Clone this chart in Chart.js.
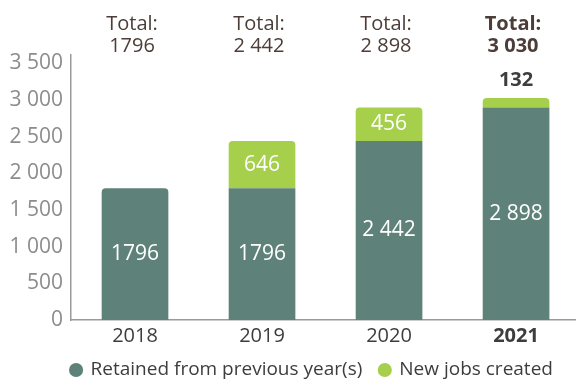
<!DOCTYPE html>
<html>
<head>
<meta charset="utf-8">
<script src="https://cdn.jsdelivr.net/npm/chart.js@4.4.1/dist/chart.umd.min.js"></script>
<style>
  html, body { margin: 0; padding: 0; background: #ffffff; }
  #wrap { width: 576px; height: 380px; position: relative; overflow: hidden; }
</style>
</head>
<body>
<div id="wrap"><canvas id="chart" width="576" height="380"></canvas></div>
<script>
// Jobs per year, split into retained and newly created
const years = ['2018', '2019', '2020', '2021'];
const retained = [1796, 1796, 2442, 2898];
const newJobs = [null, 646, 456, 132];
const totals = [1796, 2442, 2898, 3030];
const yTicks = [0, 500, 1000, 1500, 2000, 2500, 3000, 3500];

const COLOR_RETAINED = '#5e8279';
const COLOR_NEW = '#a6cf4c';
const FONT = '"Open Sans", sans-serif';

// Space-grouped thousands; four-digit values below 2000 stay ungrouped
const fmt = v => {
  const s = String(v);
  if (v < 2000) return s;
  return s.replace(/\B(?=(\d{3})+(?!\d))/g, ' ');
};

const lastIdx = years.length - 1;

const labelsPlugin = {
  id: 'barLabels',
  afterDatasetsDraw(chart) {
    const { ctx, scales } = chart;
    const x = scales.x, y = scales.y;
    ctx.save();
    ctx.textAlign = 'center';
    years.forEach((yr, i) => {
      const cx = x.getPixelForValue(i);
      const bold = i === lastIdx;

      // totals row above the plot
      ctx.textBaseline = 'alphabetic';
      ctx.fillStyle = '#4b3d37';
      ctx.font = (bold ? 'bold ' : '') + '20px ' + FONT;
      ctx.fillText('Total:', cx - 3, 30);
      ctx.fillText(fmt(totals[i]), cx - 3, 52);

      // retained segment value
      ctx.textBaseline = 'middle';
      ctx.fillStyle = '#ffffff';
      ctx.font = '21px ' + FONT;
      ctx.fillText(fmt(retained[i]), cx, y.getPixelForValue(retained[i] / 2));

      // new-jobs segment value: inside when it fits, above the bar otherwise
      const n = newJobs[i];
      if (n) {
        const top = y.getPixelForValue(retained[i] + n);
        const base = y.getPixelForValue(retained[i]);
        if (base - top > 26) {
          ctx.fillStyle = '#ffffff';
          ctx.font = '21px ' + FONT;
          ctx.fillText(fmt(n), cx, (top + base) / 2);
        } else {
          ctx.fillStyle = '#3d3d3d';
          ctx.font = 'bold 20px ' + FONT;
          ctx.fillText(fmt(n), cx, top - 18);
        }
      }
    });
    ctx.restore();
  }
};

const topRadius = { topLeft: 4, topRight: 4, bottomLeft: 0, bottomRight: 0 };

new Chart(document.getElementById('chart'), {
  type: 'bar',
  data: {
    datasets: [
      {
        label: 'Retained from previous year(s)',
        data: retained.map((v, i) => ({ x: i, y: v })),
        backgroundColor: COLOR_RETAINED,
        borderRadius: ctx => (newJobs[ctx.dataIndex] ? 0 : topRadius),
        borderSkipped: false,
        barPercentage: 0.525,
        categoryPercentage: 1
      },
      {
        label: 'New jobs created',
        data: newJobs.map((v, i) => ({ x: i, y: v })),
        backgroundColor: COLOR_NEW,
        borderRadius: topRadius,
        borderSkipped: false,
        barPercentage: 0.525,
        categoryPercentage: 1
      }
    ]
  },
  options: {
    responsive: false,
    animation: false,
    // negative right padding nudges the full-width legend a little left of centre
    layout: { padding: { top: 55, right: -48, left: 0, bottom: 0 } },
    plugins: {
      tooltip: { enabled: false },
      legend: {
        position: 'bottom',
        maxHeight: 37,
        labels: {
          usePointStyle: true,
          pointStyle: 'circle',
          boxWidth: 10,
          boxHeight: 10,
          padding: 17.5,
          color: '#3d3d3d',
          font: { family: FONT, size: 19 }
        }
      }
    },
    scales: {
      x: {
        type: 'linear',
        stacked: true,
        offset: false,
        min: -0.504,
        max: 3.472,
        afterBuildTicks: s => { s.ticks = years.map((_, i) => ({ value: i })); },
        afterFit: s => { s.height = 23; },
        grid: { display: false, drawTicks: false },
        border: { display: true, color: '#9a9a9a', width: 1.5 },
        ticks: {
          padding: 4,
          color: '#3d3d3d',
          maxRotation: 0,
          callback: v => years[v],
          font: ctx => ({ family: FONT, size: 20, weight: ctx.index === lastIdx ? 'bold' : 'normal' })
        }
      },
      y: {
        stacked: true,
        min: 0,
        max: 3615,
        afterBuildTicks: s => { s.ticks = yTicks.map(v => ({ value: v })); },
        afterFit: s => { s.width = 71; },
        grid: { display: false, drawTicks: false },
        border: { display: true, color: '#9a9a9a', width: 1.5 },
        ticks: {
          padding: 8,
          color: '#8c8c8c',
          callback: v => (v >= 1000 ? String(v).replace(/^(\d)(\d{3})$/, '$1 $2') : String(v)),
          font: { family: FONT, size: 21 }
        }
      }
    }
  },
  plugins: [labelsPlugin]
});
</script>
</body>
</html>
